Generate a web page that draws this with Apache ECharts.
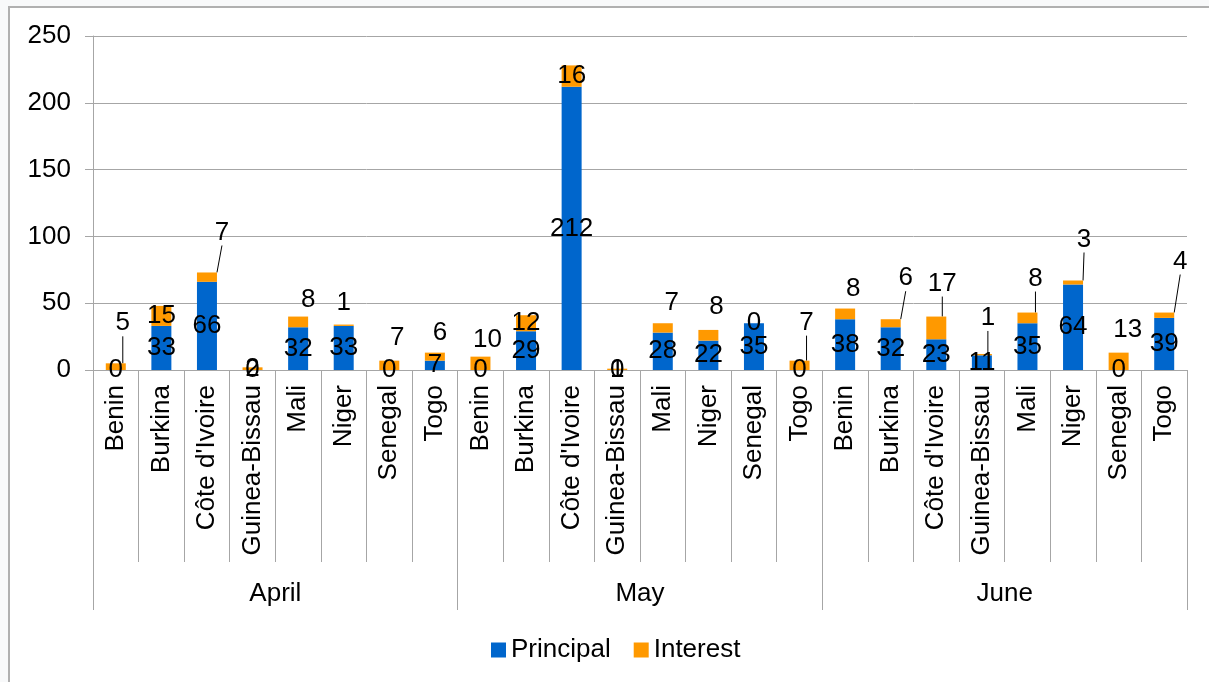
<!DOCTYPE html>
<html>
<head>
<meta charset="utf-8">
<script src="https://cdn.jsdelivr.net/npm/echarts@6/dist/echarts.min.js"></script>
<style>
  html, body { margin: 0; padding: 0; background: #f8f9fa; }
  #wrap { position: relative; width: 1209px; height: 682px; overflow: hidden; }
  #frame { position: absolute; left: 8px; top: 6px; width: 1300px; height: 800px; background: #ffffff; border-left: 2px solid #b0b0b0; border-top: 2px solid #b0b0b0; }
  #chart { position: absolute; left: 0; top: 0; width: 1209px; height: 682px; }
</style>
</head>
<body>
<div id="wrap">
  <div id="frame"></div>
  <div id="chart"></div>
</div>
<script>
// ---- Data ----
const months = ['April', 'May', 'June'];
const countries = ['Benin', 'Burkina', "Côte d'Ivoire", 'Guinea-Bissau', 'Mali', 'Niger', 'Senegal', 'Togo'];
const principalApril = [0, 33, 66, 0, 32, 33, 0, 7];
const interestApril  = [5, 15, 7, 2, 8, 1, 7, 6];
const principalMay   = [0, 29, 212, 0, 28, 22, 35, 0];
const interestMay    = [10, 12, 16, 1, 7, 8, 0, 7];
const principalJune  = [38, 32, 23, 11, 35, 64, 0, 39];
const interestJune   = [8, 6, 17, 1, 8, 3, 13, 4];
const yTicks = [0, 50, 100, 150, 200, 250];

// ---- Derived ----
const categories = [].concat(countries, countries, countries);
const principal = [].concat(principalApril, principalMay, principalJune);
const interest = [].concat(interestApril, interestMay, interestJune);

// label placement for interest labels (offset from bar top: [dx, dy]) – layout, not data
const interestLabelMove = {
  0: [7, -40], 2: [15, -40], 4: [10, -17], 5: [0, -22], 6: [8, -23], 7: [5, -20],
  8: [7, -17], 12: [9, -20], 13: [8, -23], 15: [7, -38],
  16: [8, -20], 17: [15, -41], 18: [6, -33], 19: [6, -36], 20: [8, -34],
  21: [11, -41], 22: [9, -23], 23: [16, -51]
};
const leaderIdx = [0, 2, 15, 17, 18, 19, 20, 21, 23];

const FONT = "'Liberation Sans', Arial, sans-serif";
const GRAY = '#a6a6a6';

const chart = echarts.init(document.getElementById('chart'), null, { renderer: 'canvas' });

const interestData = interest.map((v, i) => ({
  value: v,
  labelLine: { show: leaderIdx.indexOf(i) >= 0 }
}));

chart.setOption({
  animation: false,
  backgroundColor: 'transparent',
  textStyle: { fontFamily: FONT },
  grid: { left: 93, right: 22, top: 36, bottom: 312 },
  legend: {
    left: 486, top: 632,
    itemWidth: 15, itemHeight: 15, itemGap: 23,
    icon: 'rect',
    textStyle: { fontSize: 26, color: '#000', fontFamily: FONT },
    data: ['Principal', 'Interest']
  },
  xAxis: [
    {
      type: 'category',
      data: categories,
      axisLine: { show: true, lineStyle: { color: GRAY, width: 1 } },
      axisTick: { show: true, length: 192, interval: 0, lineStyle: { color: GRAY, width: 1 } },
      axisLabel: { interval: 0, rotate: 90, margin: 15, fontSize: 26, color: '#000', fontFamily: FONT }
    },
    {
      type: 'category',
      data: months,
      position: 'bottom',
      axisLine: { show: false },
      axisTick: { show: true, length: 240, interval: 0, lineStyle: { color: GRAY, width: 1 } },
      axisLabel: { interval: 0, margin: 211, fontSize: 26, color: '#000', fontFamily: FONT }
    }
  ],
  yAxis: {
    type: 'value',
    min: yTicks[0], max: yTicks[yTicks.length - 1], interval: yTicks[1] - yTicks[0],
    axisLine: { show: true, lineStyle: { color: GRAY, width: 1 } },
    axisTick: { show: true, length: 8, lineStyle: { color: GRAY } },
    axisLabel: { margin: 22, fontSize: 26, color: '#000', fontFamily: FONT },
    splitLine: { show: true, lineStyle: { color: GRAY, width: 1 } }
  },
  series: [
    {
      name: 'Principal',
      type: 'bar',
      stack: 'total',
      xAxisIndex: 0,
      barWidth: 20,
      itemStyle: { color: '#0066CC' },
      label: { show: true, position: 'inside', fontSize: 26, color: '#000', fontFamily: FONT },
      data: principal
    },
    {
      name: 'Interest',
      type: 'bar',
      stack: 'total',
      xAxisIndex: 0,
      barWidth: 20,
      itemStyle: { color: '#FF9900' },
      label: { show: true, position: 'inside', fontSize: 26, color: '#000', fontFamily: FONT },
      labelLine: { show: false, lineStyle: { color: '#000', width: 1 }, smooth: false, length2: 0 },
      labelLayout: function (p) {
        const mv = interestLabelMove[p.dataIndex];
        if (!mv) return {};
        const r = p.rect, lr = p.labelRect;
        const tx = r.x + r.width / 2 + mv[0];
        const ty = r.y + mv[1];
        return { dx: tx - (lr.x + lr.width / 2), dy: ty - (lr.y + lr.height / 2) };
      },
      data: interestData
    }
  ]
});
</script>
</body>
</html>
